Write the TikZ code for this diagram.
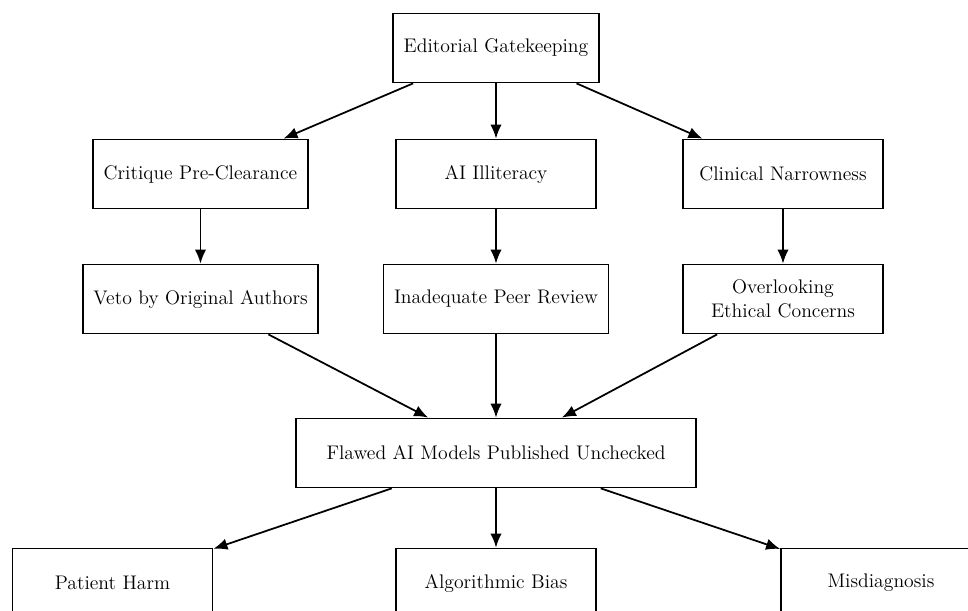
\documentclass[tikz,border=0pt]{standalone}
\usetikzlibrary{arrows.meta}
\tikzset{
  box/.style={draw, line width=1pt, rectangle, minimum width=4cm, minimum height=1.38cm,
    inner xsep=6pt, align=center, font=\fontsize{11.2}{13.5}\selectfont},
  arr/.style={-{Latex[length=8pt, width=6.5pt]}, line width=1pt}
}
\begin{document}
\begin{tikzpicture}
    \useasboundingbox (0,0) rectangle (19.36,-12.22);
    \clip (0,0) rectangle (19.36,-12.22);
    \node[box] (A0_1) at (9.92, -0.96) {Editorial Gatekeeping};
    \node[box] (A1_0) at (4.01, -3.48) {Critique Pre-Clearance};
    \node[box] (A1_1) at (9.92, -3.48) {AI Illiteracy};
    \node[box] (A1_2) at (15.66, -3.48) {Clinical Narrowness};
    \node[box] (A2_0) at (4.01, -5.98) {Veto by Original Authors};
    \node[box] (A2_1) at (9.92, -5.98) {Inadequate Peer Review};
    \node[box] (A2_2) at (15.66, -5.98) {Overlooking\\Ethical Concerns};
    \node[box, minimum width=8cm] (A3_1) at (9.92, -9.06) {Flawed AI Models Published Unchecked};
    \node[box] (A4_0) at (2.25, -11.66) {Patient Harm};
    \node[box] (A4_1) at (9.92, -11.66) {Algorithmic Bias};
    \node[box] (A4_2) at (17.62, -11.66) {Misdiagnosis};
    \path (A0_1) edge [arr] (A1_0);
    \path (A0_1) edge [arr] (A1_1);
    \path (A0_1) edge [arr] (A1_2);
    \path (A1_0) edge [arr] (A2_0);
    \path (A1_1) edge [arr] (A2_1);
    \path (A1_2) edge [arr] (A2_2);
    \path (A2_0) edge [arr] (A3_1);
    \path (A2_1) edge [arr] (A3_1);
    \path (A2_2) edge [arr] (A3_1);
    \path (A3_1) edge [arr] (A4_0);
    \path (A3_1) edge [arr] (A4_1);
    \path (A3_1) edge [arr] (A4_2);
  \end{tikzpicture}
\end{document}
